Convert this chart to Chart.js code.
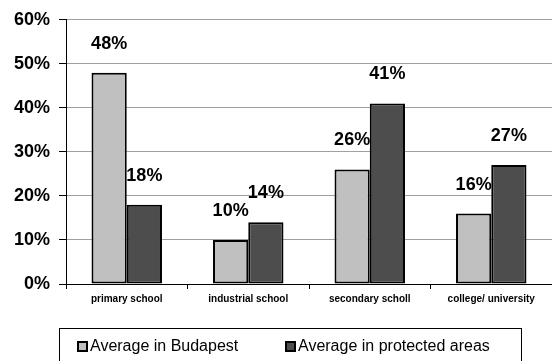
<!DOCTYPE html>
<html>
<head>
<meta charset="utf-8">
<script src="https://cdn.jsdelivr.net/npm/chart.js@4/dist/chart.umd.min.js"></script>
<style>
  html, body { margin: 0; padding: 0; background: #fff; }
  #wrap { width: 552px; height: 361px; position: relative; }
</style>
</head>
<body>
<div id="wrap"><canvas id="eduChart"></canvas></div>
<script>
// categories and values
var categories = ["primary school", "industrial school", "secondary scholl", "college/ university"];
var budapest = [48, 10, 26, 16];
var protectedAreas = [18, 14, 41, 27];
var seriesNames = ["Average in Budapest", "Average in protected areas"];
var yTicks = [0, 10, 20, 30, 40, 50, 60];

var fontFam = "'Liberation Sans', Arial, sans-serif";

// value labels above each bar
var valueLabels = {
    id: 'valueLabels',
    afterDatasetsDraw: function(chart) {
        var ctx = chart.ctx;
        ctx.save();
        ctx.font = "bold 18px " + fontFam;
        ctx.fillStyle = "#000";
        ctx.textAlign = "center";
        ctx.textBaseline = "middle";
        chart.data.datasets.forEach(function(ds, i) {
            chart.getDatasetMeta(i).data.forEach(function(bar, j) {
                ctx.fillText(ds.data[j] + "%", bar.x, bar.y - 29);
            });
        });
        ctx.restore();
    }
};

// legend in a box under the chart (bottom edge falls off the picture)
var boxLegend = {
    id: 'boxLegend',
    afterDraw: function(chart) {
        var ctx = chart.ctx;
        ctx.save();
        ctx.strokeStyle = "#000";
        ctx.lineWidth = 1;
        ctx.strokeRect(59.5, 328.5, 462, 45);
        var xs = [77, 285];
        ctx.font = "16px " + fontFam;
        ctx.textBaseline = "middle";
        ctx.textAlign = "left";
        chart.data.datasets.forEach(function(ds, i) {
            ctx.fillStyle = ds.backgroundColor;
            ctx.fillRect(xs[i], 341, 11, 11);
            ctx.lineWidth = 2;
            ctx.strokeRect(xs[i] + 1, 342, 9, 9);
            ctx.fillStyle = "#000";
            ctx.fillText(ds.label, xs[i] + 13, 347);
        });
        ctx.restore();
    }
};

var ctx = document.getElementById("eduChart").getContext("2d");
var eduChart = new Chart(ctx, {
    type: 'bar',
    data: {
        labels: categories,
        datasets: [
            {
                label: seriesNames[0],
                data: budapest,
                backgroundColor: "#c0c0c0",
                borderColor: "#000",
                borderWidth: 2,
                borderSkipped: false
            },
            {
                label: seriesNames[1],
                data: protectedAreas,
                backgroundColor: "#4d4d4d",
                borderColor: "#000",
                borderWidth: 2,
                borderSkipped: false
            }
        ]
    },
    options: {
        responsive: true,
        maintainAspectRatio: false,
        animation: false,
        datasets: {
            bar: { categoryPercentage: 0.58, barPercentage: 1.0 }
        },
        layout: { padding: { top: 17, right: 0, left: 0, bottom: 57 } },
        plugins: {
            legend: { display: false },
            tooltip: { enabled: false }
        },
        scales: {
            x: {
                grid: {
                    offset: true,
                    drawOnChartArea: false,
                    drawTicks: true,
                    tickLength: 5,
                    tickColor: "#000"
                },
                border: { color: "#000", width: 1 },
                ticks: {
                    color: "#000",
                    font: { family: fontFam, size: 10, weight: "bold" },
                    padding: 4,
                    maxRotation: 0
                },
                afterFit: function(scale) { scale.height = 20; }
            },
            y: {
                min: 0,
                max: 60,
                afterBuildTicks: function(scale) {
                    scale.ticks = yTicks.map(function(v) { return { value: v }; });
                },
                grid: {
                    color: "#a0a0a0",
                    tickColor: "#000",
                    tickLength: 7,
                    lineWidth: 1
                },
                border: { color: "#000", width: 1 },
                ticks: {
                    color: "#000",
                    font: { family: fontFam, size: 18, weight: "bold" },
                    padding: 9,
                    callback: function(v) { return v + "%"; }
                },
                afterFit: function(scale) { scale.width = 66; }
            }
        }
    },
    plugins: [valueLabels, boxLegend]
});
</script>
</body>
</html>
